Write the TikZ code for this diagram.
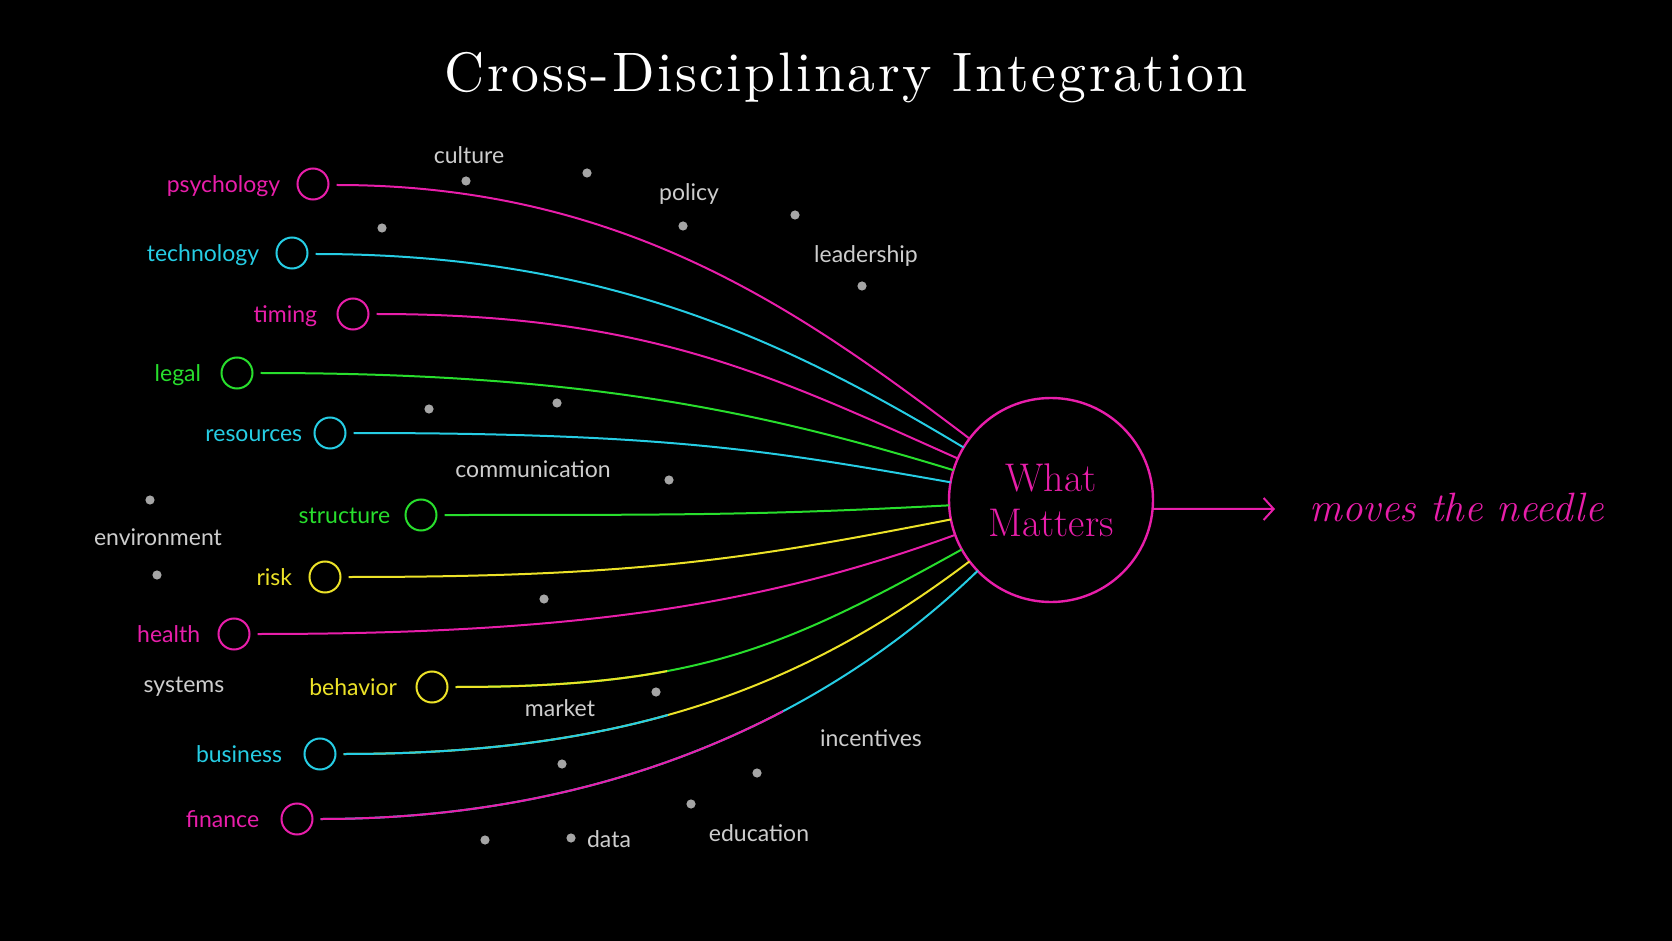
\documentclass[tikz,border=0pt]{standalone}
\usepackage{fontspec}
\newfontfamily\lbl{Lato}
\newfontfamily\ttl{lmroman10-regular.otf}[LetterSpace=4.6]
\usetikzlibrary{calc,arrows.meta}
\definecolor{cmag}{RGB}{232,30,170}
\definecolor{ccya}{RGB}{38,205,228}
\definecolor{cgrn}{RGB}{40,222,45}
\definecolor{cyel}{RGB}{236,226,40}
\definecolor{gtext}{RGB}{205,205,205}
\definecolor{gdot}{RGB}{165,165,165}
\begin{document}
\begin{tikzpicture}[x=0.5pt,y=-0.5pt,
  lab/.style={circle, draw, line width=1pt, minimum size=15.5pt, inner sep=0pt, outer sep=0pt},
  ltxt/.style={font=\lbl\fontsize{11.5}{13}\selectfont, anchor=mid east, inner sep=0pt},
  gtxt/.style={font=\lbl\fontsize{11.5}{13}\selectfont, text=gtext, anchor=mid, inner sep=0pt},
  dot/.style={circle, fill=gdot, minimum size=4.6pt, inner sep=0pt},
  conn/.style={line width=1pt}]
\fill[black] (0,0) rectangle (1672,941);
\useasboundingbox (0,0) rectangle (1672,941);

% title
\node[font=\ttl\fontsize{27.8}{32}\selectfont, text=white, anchor=base, inner sep=0pt] (title) at (846,92) {Cross-Disciplinary Integration};

% central node
\node[circle, draw=cmag, line width=1.2pt, minimum size=102pt, inner sep=0pt, outer sep=0pt,
      align=center, text=cmag, font=\fontsize{20}{22.5}\selectfont] (wm) at (1051,500) {What\\Matters};
\coordinate (arr) at (1275,509);
\draw[cmag, line width=1pt, -{Straight Barb[length=5pt,width=11pt]}] (wm.-5) -- (arr);
\node[font=\itshape\fontsize{20.5}{24}\selectfont, text=cmag, anchor=mid west, inner sep=0pt] (mv) at (1309,517) {moves the needle};

% discipline circles and labels
\node[lab, draw=cmag] (c1) at (313,184) {};
\node[lab, draw=ccya] (c2) at (292,253) {};
\node[lab, draw=cmag] (c3) at (353,314) {};
\node[lab, draw=cgrn] (c4) at (237,373) {};
\node[lab, draw=ccya] (c5) at (330,433) {};
\node[lab, draw=cgrn] (c6) at (421,515) {};
\node[lab, draw=cyel] (c7) at (325,577) {};
\node[lab, draw=cmag] (c8) at (234,634) {};
\node[lab, draw=cyel] (c9) at (432,687) {};
\node[lab, draw=ccya] (c10) at (320,754) {};
\node[lab, draw=cmag] (c11) at (297,819) {};

\node[ltxt, text=cmag] (t1) at ($(c1.west)+(-17,4)$) {psychology};
\node[ltxt, text=ccya] (t2) at ($(c2.west)+(-17,4)$) {technology};
\node[ltxt, text=cmag] (t3) at ($(c3.west)+(-20,4)$) {timing};
\node[ltxt, text=cgrn] (t4) at ($(c4.west)+(-20,4)$) {legal};
\node[ltxt, text=ccya] (t5) at ($(c5.west)+(-12,4)$) {resources};
\node[ltxt, text=cgrn] (t6) at ($(c6.west)+(-15,4)$) {structure};
\node[ltxt, text=cyel] (t7) at ($(c7.west)+(-17,4)$) {risk};
\node[ltxt, text=cmag] (t8) at ($(c8.west)+(-18,4)$) {health};
\node[ltxt, text=cyel] (t9) at ($(c9.west)+(-19,4)$) {behavior};
\node[ltxt, text=ccya] (t10) at ($(c10.west)+(-22,4)$) {business};
\node[ltxt, text=cmag] (t11) at ($(c11.west)+(-22,4)$) {finance};

% connectors
\draw[conn, cmag] ($(c1.east)+(8,1)$) .. controls ($(c1.east)+(300,1)$) and ($(wm.center)!3!(wm.143)$) .. (wm.143);
\draw[conn, ccya] ($(c2.east)+(8,1)$) .. controls ($(c2.east)+(300,1)$) and ($(wm.center)!3!(wm.149)$) .. (wm.149);
\draw[conn, cmag] ($(c3.east)+(8,0)$) .. controls ($(c3.east)+(280,0)$) and ($(wm.center)!3!(wm.156)$) .. (wm.156);
\draw[conn, cgrn] ($(c4.east)+(8,0)$) .. controls ($(c4.east)+(330,0)$) and ($(wm.center)!3!(wm.163.5)$) .. (wm.163.5);
\draw[conn, ccya] ($(c5.east)+(8,0)$) .. controls ($(c5.east)+(320,0)$) and ($(wm.center)!2.8!(wm.170)$) .. (wm.170);
\draw[conn, cgrn] ($(c6.east)+(8,0)$) .. controls ($(c6.east)+(250,0)$) and ($(wm.center)!2.8!(wm.183)$) .. (wm.183);
\draw[conn, cyel] ($(c7.east)+(8,0)$) .. controls ($(c7.east)+(300,0)$) and ($(wm.center)!3!(wm.191)$) .. (wm.191);
\draw[conn, cmag] ($(c8.east)+(8,0)$) .. controls ($(c8.east)+(330,0)$) and ($(wm.center)!3!(wm.200)$) .. (wm.200);
% behavior: yellow turning green
\draw[conn, cgrn] ($(c9.east)+(8,0)$) .. controls ($(c9.east)+(250,0)$) and ($(wm.center)!3!(wm.209)$) .. (wm.209);
\begin{scope}
\clip (0,0) rectangle (667,941);
\draw[conn, cyel] ($(c9.east)+(8,0)$) .. controls ($(c9.east)+(250,0)$) and ($(wm.center)!3!(wm.209)$) .. (wm.209);
\end{scope}
% business: cyan turning yellow
\draw[conn, cyel] ($(c10.east)+(8,0)$) .. controls ($(c10.east)+(300,0)$) and ($(wm.center)!3!(wm.217)$) .. (wm.217);
\begin{scope}
\clip (0,0) rectangle (668,941);
\draw[conn, ccya] ($(c10.east)+(8,0)$) .. controls ($(c10.east)+(300,0)$) and ($(wm.center)!3!(wm.217)$) .. (wm.217);
\end{scope}
% finance: magenta turning cyan
\draw[conn, ccya] ($(c11.east)+(8,0)$) .. controls ($(c11.east)+(300,0)$) and ($(wm.center)!3!(wm.224)$) .. (wm.224);
\begin{scope}
\clip (0,0) rectangle (783,941);
\draw[conn, cmag] ($(c11.east)+(8,0)$) .. controls ($(c11.east)+(300,0)$) and ($(wm.center)!3!(wm.224)$) .. (wm.224);
\end{scope}

% gray words
\node[gtxt] (w1) at (469,159) {culture};
\node[gtxt] (w2) at (689,196) {policy};
\node[gtxt] (w3) at (866,258) {leadership};
\node[gtxt] (w4) at (533,473) {communication};
\node[gtxt] (w5) at (158,541) {environment};
\node[gtxt] (w6) at (184,688) {systems};
\node[gtxt] (w7) at (560,712) {market};
\node[gtxt] (w8) at (871,742) {incentives};
\node[gtxt] (w9) at (609,843) {data};
\node[gtxt] (w10) at (759,837) {education};

% dots
\node[dot] (d1) at (466,181) {};
\node[dot] (d2) at (587,173) {};
\node[dot] (d3) at (382,228) {};
\node[dot] (d4) at (683,226) {};
\node[dot] (d5) at (795,215) {};
\node[dot] (d6) at (862,286) {};
\node[dot] (d7) at (429,409) {};
\node[dot] (d8) at (557,403) {};
\node[dot] (d9) at (669,480) {};
\node[dot] (d10) at (150,500) {};
\node[dot] (d11) at (157,575) {};
\node[dot] (d12) at (544,599) {};
\node[dot] (d13) at (656,692) {};
\node[dot] (d14) at (562,764) {};
\node[dot] (d15) at (757,773) {};
\node[dot] (d16) at (691,804) {};
\node[dot] (d17) at (485,840) {};
\node[dot] (d18) at (571,838) {};
\end{tikzpicture}
\end{document}
